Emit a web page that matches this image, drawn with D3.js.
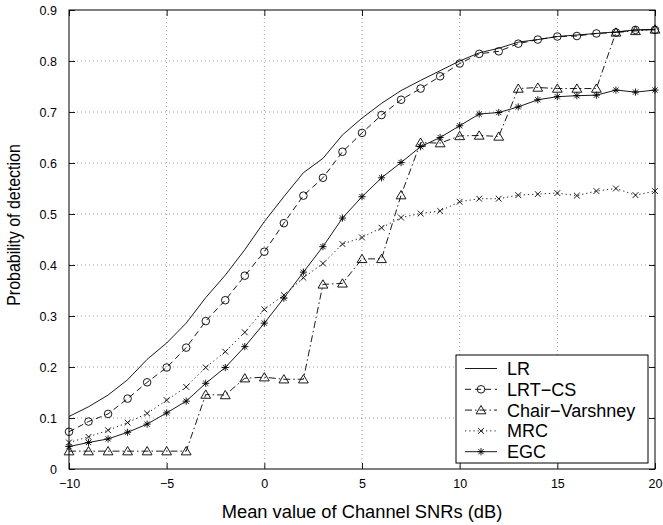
<!DOCTYPE html>
<html lang="en">

<head>
  <meta charset="UTF-8">
  <title>Probability of detection vs SNR</title>
  <script src="https://d3js.org/d3.v7.min.js"></script>
  <style>
    body { margin: 0; background: #fff; }
    text { font-family: "Liberation Sans", Arial, Helvetica, sans-serif; fill: #000; }
  </style>
</head>

<body>
</body>
<script>
  const WIDTH = 663;
  const HEIGHT = 525;
  const margin = { top: 10, right: 8, bottom: 56, left: 69 };

  // mean channel SNR (dB)
  const snr = [-10, -9, -8, -7, -6, -5, -4, -3, -2, -1, 0, 1, 2, 3, 4, 5, 6, 7, 8, 9,
    10, 11, 12, 13, 14, 15, 16, 17, 18, 19, 20];

  const lr = [0.103, 0.122, 0.145, 0.175, 0.215, 0.247, 0.286, 0.336, 0.380, 0.430,
    0.485, 0.534, 0.581, 0.609, 0.655, 0.688, 0.717, 0.742, 0.762, 0.781,
    0.800, 0.816, 0.825, 0.837, 0.842, 0.848, 0.851, 0.854, 0.857, 0.861, 0.862];
  const lrtcs = [0.073, 0.093, 0.108, 0.138, 0.170, 0.199, 0.238, 0.290, 0.331, 0.379,
    0.426, 0.482, 0.536, 0.571, 0.622, 0.659, 0.694, 0.724, 0.746, 0.770,
    0.795, 0.814, 0.819, 0.834, 0.842, 0.848, 0.849, 0.854, 0.856, 0.861, 0.861];
  const chair = [0.035, 0.035, 0.035, 0.035, 0.035, 0.035, 0.035, 0.146, 0.145, 0.178,
    0.180, 0.176, 0.176, 0.362, 0.364, 0.412, 0.412, 0.537, 0.640, 0.639,
    0.653, 0.654, 0.652, 0.746, 0.748, 0.746, 0.746, 0.746, 0.856, 0.859, 0.862];
  const mrc = [0.052, 0.063, 0.076, 0.091, 0.109, 0.135, 0.161, 0.199, 0.230, 0.268,
    0.313, 0.341, 0.375, 0.403, 0.441, 0.454, 0.473, 0.493, 0.501, 0.506,
    0.524, 0.530, 0.530, 0.537, 0.539, 0.541, 0.536, 0.545, 0.550, 0.537, 0.545];
  const egc = [0.044, 0.052, 0.059, 0.072, 0.088, 0.110, 0.133, 0.168, 0.199, 0.240,
    0.286, 0.335, 0.386, 0.436, 0.492, 0.534, 0.571, 0.601, 0.632, 0.650,
    0.673, 0.696, 0.699, 0.710, 0.724, 0.730, 0.732, 0.733, 0.743, 0.739, 0.743];

  const xTicks = [-10, -5, 0, 5, 10, 15, 20];
  const xTickLabels = ['\u221210', '\u22125', '0', '5', '10', '15', '20'];
  const yTicks = [0, 0.1, 0.2, 0.3, 0.4, 0.5, 0.6, 0.7, 0.8, 0.9];
  const yTickLabels = ['0', '0.1', '0.2', '0.3', '0.4', '0.5', '0.6', '0.7', '0.8', '0.9'];

  const seriesNames = ['LR', 'LRT\u2212CS', 'Chair\u2212Varshney', 'MRC', 'EGC'];

  // marker shapes, centred on 0,0
  const markers = {
    none: null,
    circle: 'M3.8,0A3.8,3.8 0 1,1 -3.8,0A3.8,3.8 0 1,1 3.8,0Z',
    triangle: 'M0,-4.6L4.9,3.7L-4.9,3.7Z',
    cross: 'M-2.9,-2.9L2.9,2.9M-2.9,2.9L2.9,-2.9',
    star: 'M-3.6,0L3.6,0M0,-3.6L0,3.6M-2.6,-2.6L2.6,2.6M-2.6,2.6L2.6,-2.6'
  };

  const series = [
    { name: seriesNames[0], values: lr, dash: null, marker: 'none' },
    { name: seriesNames[1], values: lrtcs, dash: '6,4', marker: 'circle' },
    { name: seriesNames[2], values: chair, dash: '7,3,1.5,3', marker: 'triangle' },
    { name: seriesNames[3], values: mrc, dash: '1.2,3', marker: 'cross' },
    { name: seriesNames[4], values: egc, dash: null, marker: 'star' }
  ];

  const innerW = WIDTH - margin.left - margin.right;
  const innerH = HEIGHT - margin.top - margin.bottom;

  const x = d3.scaleLinear().domain([-10, 20]).range([0, innerW]);
  const y = d3.scaleLinear().domain([0, 0.9]).range([innerH, 0]);

  const svg = d3.select('body')
    .append('svg')
    .attr('width', WIDTH)
    .attr('height', HEIGHT)
    .append('g')
    .attr('transform', `translate(${margin.left}, ${margin.top})`);

  // dotted grid
  svg.append('g')
    .selectAll('line.vg')
    .data(xTicks.slice(1, -1))
    .enter()
    .append('line')
    .attr('x1', d => x(d)).attr('x2', d => x(d))
    .attr('y1', 0).attr('y2', innerH)
    .attr('stroke', '#888').attr('stroke-width', 0.8)
    .attr('stroke-dasharray', '1,3');

  svg.append('g')
    .selectAll('line.hg')
    .data(yTicks.slice(1, -1))
    .enter()
    .append('line')
    .attr('x1', 0).attr('x2', innerW)
    .attr('y1', d => y(d)).attr('y2', d => y(d))
    .attr('stroke', '#888').attr('stroke-width', 0.8)
    .attr('stroke-dasharray', '1,3');

  // axes, ticks pointing inwards
  const xAxis = d3.axisBottom(x)
    .tickValues(xTicks)
    .tickFormat((d, i) => xTickLabels[i])
    .tickSizeInner(-6).tickSizeOuter(0).tickPadding(10.5);
  const yAxis = d3.axisLeft(y)
    .tickValues(yTicks)
    .tickFormat((d, i) => yTickLabels[i])
    .tickSizeInner(-6).tickSizeOuter(0).tickPadding(12);

  svg.append('g').attr('transform', `translate(0, ${innerH})`).call(xAxis);
  svg.append('g').call(yAxis);
  svg.append('g').call(d3.axisTop(x).tickValues(xTicks).tickFormat('').tickSizeInner(-6).tickSizeOuter(0));
  svg.append('g').attr('transform', `translate(${innerW}, 0)`)
    .call(d3.axisRight(y).tickValues(yTicks).tickFormat('').tickSizeInner(-6).tickSizeOuter(0));

  svg.selectAll('.domain').remove();
  svg.selectAll('.tick line').attr('stroke', '#000').attr('stroke-width', 0.9);
  svg.selectAll('.tick text').attr('font-size', 12.5).attr('font-family', null);

  // lines + markers
  const line = d3.line()
    .x((d, i) => x(snr[i]))
    .y(d => y(d));

  series.forEach(s => {
    svg.append('path')
      .datum(s.values)
      .attr('d', line)
      .attr('fill', 'none')
      .attr('stroke', '#000')
      .attr('stroke-width', 0.9)
      .attr('stroke-dasharray', s.dash);

    if (markers[s.marker]) {
      svg.append('g')
        .selectAll('path')
        .data(s.values)
        .enter()
        .append('path')
        .attr('transform', (d, i) => `translate(${x(snr[i])}, ${y(d)})`)
        .attr('d', markers[s.marker])
        .attr('fill', 'none')
        .attr('stroke', '#000')
        .attr('stroke-width', 0.9);
    }
  });

  // box
  svg.append('rect')
    .attr('width', innerW)
    .attr('height', innerH)
    .attr('fill', 'none')
    .attr('stroke', '#000')
    .attr('stroke-width', 1);

  // axis labels
  svg.append('text')
    .attr('x', innerW / 2)
    .attr('y', innerH + 49)
    .attr('text-anchor', 'middle')
    .attr('font-size', 18.3)
    .text('Mean value of Channel SNRs (dB)');

  svg.append('text')
    .attr('transform', `translate(${20 - margin.left}, ${225 - margin.top}) scale(1.12, 1) rotate(-90)`)
    .attr('text-anchor', 'middle')
    .attr('font-size', 16)
    .text('Probability of detection');

  // legend
  const legend = svg.append('g')
    .attr('transform', `translate(${456 - margin.left}, ${355 - margin.top})`);

  legend.append('rect')
    .attr('width', 192)
    .attr('height', 108)
    .attr('fill', '#fff')
    .attr('stroke', '#000')
    .attr('stroke-width', 1);

  const item = legend.selectAll('g.item')
    .data(series)
    .enter()
    .append('g')
    .attr('transform', (d, i) => `translate(0, ${13.5 + i * 20.8})`);

  item.append('line')
    .attr('x1', 9).attr('x2', 41)
    .attr('stroke', '#000').attr('stroke-width', 0.9)
    .attr('stroke-dasharray', d => d.dash);

  item.filter(d => markers[d.marker])
    .append('path')
    .attr('transform', 'translate(25, 0)')
    .attr('d', d => markers[d.marker])
    .attr('fill', 'none')
    .attr('stroke', '#000')
    .attr('stroke-width', 0.9);

  item.append('text')
    .attr('x', 51)
    .attr('dy', '0.36em')
    .attr('font-size', 18)
    .text(d => d.name);
</script>

</html>
